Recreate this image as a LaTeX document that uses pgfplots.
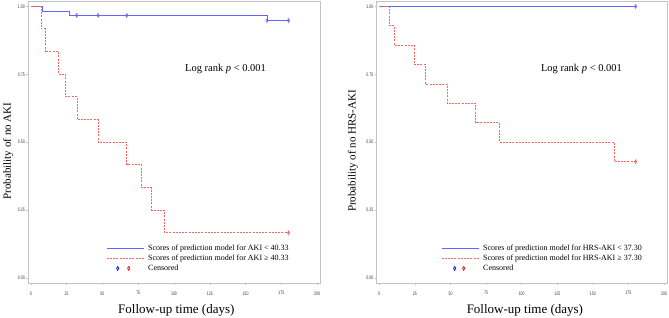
\documentclass[border=0pt]{standalone}
\usepackage{pgfplots}
\pgfplotsset{compat=1.18}
\usepackage{fontspec}
\setmainfont{Liberation Serif}
\newfontfamily\ticksfont[FakeStretch=0.7]{Liberation Sans}
\definecolor{kmblue}{RGB}{100,100,255}
\definecolor{kmred}{RGB}{255,100,100}
\definecolor{axgray}{RGB}{195,195,195}
\pgfdeclareplotmark{cens}{%
  \pgfpathellipse{\pgfpointorigin}{\pgfpoint{1.1pt}{0pt}}{\pgfpoint{0pt}{1.9pt}}%
  \pgfusepathqstroke}
\pgfplotsset{
  kmaxis/.style={
    scale only axis,
    width=#1,
    height=282pt,
    xmin=-2, xmax=202,
    ymin=-0.018, ymax=1.02,
    xtick={0,25,...,200},
    ytick={0,0.25,0.5,0.75,1},
    yticklabel style={/pgf/number format/fixed, /pgf/number format/fixed zerofill, /pgf/number format/precision=2},
    /pgf/number format/assume math mode=true,
    tick label style={font=\ticksfont\fontsize{5}{6}\selectfont, color=black!80},
    yticklabel style={inner sep=1pt},
    xticklabel style={yshift=-3pt},
    tick align=outside,
    xtick pos=lower, ytick pos=left,
    major tick length=2pt,
    every tick/.style={axgray, line width=0.5pt},
    axis line style={axgray, line width=0.6pt},
    label style={font=\fontsize{11}{13}\selectfont},
    xlabel style={font=\fontsize{13}{15}\selectfont, anchor=center},
    ylabel style={anchor=center},
    legend style={draw=none, fill=none, inner sep=0pt, column sep=4pt, row sep=2pt,
      font=\fontsize{8}{9}\selectfont,
      nodes={inner sep=0pt, text height=6pt, text depth=2pt},
      anchor=north west},
    legend cell align=left,
    clip=false,
  },
  blueline/.style={draw=kmblue, color=kmblue, line width=1pt, sharp plot,
    legend image code/.code={\draw[draw=kmblue, line width=1pt] (0pt,0pt) -- (37pt,0pt);}},
  redline/.style={draw=kmred, color=kmred, line width=1pt, sharp plot, dash pattern=on 2pt off 1.2pt,
    legend image code/.code={\draw[draw=kmred, line width=1pt, dash pattern=on 2pt off 1.2pt] (0pt,0pt) -- (37pt,0pt);}},
  censlegA/.style={legend image code/.code={
    \path[draw=none] (0pt,0pt) -- (37pt,0pt);
    \draw[draw=blue, line width=0.7pt, solid] (11pt,0pt) ellipse [x radius=1.1pt, y radius=1.9pt];
    \draw[draw=red, line width=0.7pt, solid] (22pt,0pt) ellipse [x radius=1.1pt, y radius=1.9pt];}},
  censlegB/.style={legend image code/.code={
    \path[draw=none] (0pt,0pt) -- (37pt,0pt);
    \draw[draw=blue, line width=0.7pt, solid] (13pt,0pt) ellipse [x radius=1.1pt, y radius=1.9pt];
    \draw[draw=red, line width=0.7pt, solid] (22pt,0pt) ellipse [x radius=1.1pt, y radius=1.9pt];}},
}
\begin{document}
\begin{tikzpicture}
\useasboundingbox (0,0) rectangle (669pt,318pt);
% ---------- left panel ----------
\begin{axis}[kmaxis=292pt, at={(28pt,35pt)}, anchor=south west,
  xlabel={Follow-up time (days)},
  ylabel={Probability of no AKI},
  xlabel style={at={(axis description cs:0.508,-0.096)}},
  ylabel style={at={(axis description cs:-0.068,0.468)}},
  legend style={at={(axis cs:52.5,0.125)}},
]
\addplot[blueline, forget plot] coordinates {
 (0,1) (8.4,1) (8.4,0.981) (27,0.981) (27,0.967) (165,0.967) (165,0.948) (180,0.948)};
\addplot[redline, forget plot] coordinates {
 (0,1) (7.2,1) (7.2,0.917) (10,0.917) (10,0.833) (19.4,0.833) (19.4,0.75)
 (24.2,0.75) (24.2,0.667) (32.4,0.667) (32.4,0.583) (47,0.583) (47,0.5)
 (67,0.5) (67,0.417) (77.4,0.417) (77.4,0.333) (84.4,0.333) (84.4,0.25)
 (93.2,0.25) (93.2,0.167) (180,0.167)};
\addplot[only marks, mark=cens, draw=kmblue, mark options={solid, draw=kmblue, line width=0.6pt}, forget plot] coordinates {
 (32,0.967) (47,0.967) (67,0.967) (165,0.948) (180,0.948)};
\addplot[only marks, mark=cens, draw=kmred, mark options={solid, draw=kmred, line width=0.6pt}, forget plot] coordinates {
 (180,0.167)};
\addlegendimage{blueline}
\addlegendentry{Scores of prediction model for AKI < 40.33}
\addlegendimage{redline}
\addlegendentry{Scores of prediction model for AKI ≥ 40.33}
\addlegendimage{censlegA}
\addlegendentry{Censored}
\node[font=\fontsize{10.5}{12}\selectfont] at (axis cs:136,0.77) {Log rank \textit{p} < 0.001};
\end{axis}
% ---------- right panel ----------
\begin{axis}[kmaxis=290.4pt, at={(376.5pt,35pt)}, anchor=south west,
  xlabel={Follow-up time (days)},
  ylabel={Probability of no HRS-AKI},
  xlabel style={at={(axis description cs:0.511,-0.096)}},
  ylabel style={at={(axis description cs:-0.081,0.468)}},
  legend style={at={(axis cs:43.3,0.125)}},
]
\addplot[blueline, forget plot] coordinates {
 (0,1) (180,1)};
\addplot[redline, forget plot] coordinates {
 (0,1) (7,1) (7,0.929) (10.5,0.929) (10.5,0.857) (24.4,0.857) (24.4,0.786)
 (32.6,0.786) (32.6,0.714) (47.6,0.714) (47.6,0.643) (67.7,0.643) (67.7,0.571)
 (84.3,0.571) (84.3,0.5) (164.9,0.5) (164.9,0.4286) (180,0.4286)};
\addplot[only marks, mark=cens, draw=kmblue, mark options={solid, draw=kmblue, line width=0.6pt}, forget plot] coordinates {
 (180,1)};
\addplot[only marks, mark=cens, draw=kmred, mark options={solid, draw=kmred, line width=0.6pt}, forget plot] coordinates {
 (180,0.4286)};
\addlegendimage{blueline}
\addlegendentry{Scores of prediction model for HRS-AKI < 37.30}
\addlegendimage{redline}
\addlegendentry{Scores of prediction model for HRS-AKI ≥ 37.30}
\addlegendimage{censlegB}
\addlegendentry{Censored}
\node[font=\fontsize{10.5}{12}\selectfont] at (axis cs:142,0.77) {Log rank \textit{p} < 0.001};
\end{axis}
\end{tikzpicture}
\end{document}
